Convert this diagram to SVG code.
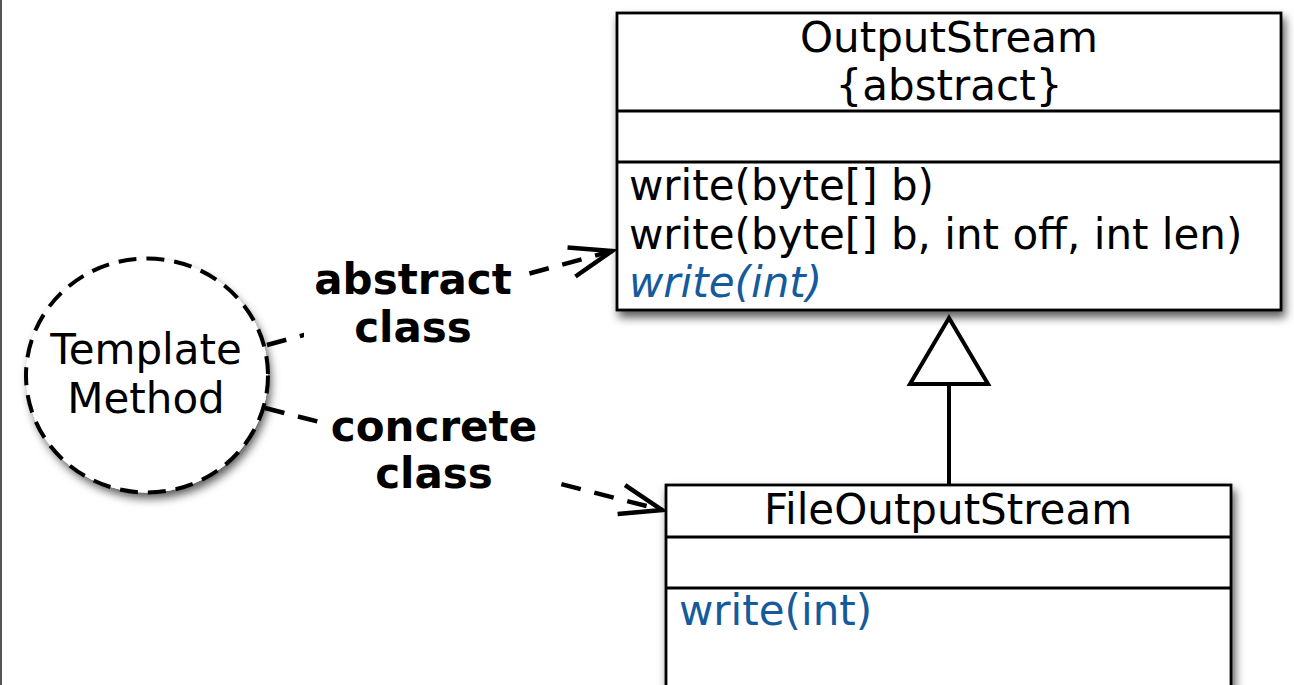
<svg xmlns="http://www.w3.org/2000/svg" width="1294" height="685" viewBox="0 0 1294 685">
  <defs>
    <filter id="shadow" x="-10%" y="-10%" width="125%" height="130%">
      <feDropShadow dx="3" dy="6" stdDeviation="5" flood-color="#000" flood-opacity="0.65"/>
    </filter>
    <marker id="open" markerUnits="userSpaceOnUse" markerWidth="60" markerHeight="40" viewBox="-46 -20 50 40" refX="0" refY="0" orient="auto">
      <path d="M -42 -15 L 0 0 L -42 15" fill="none" stroke="#000" stroke-width="4.5" stroke-linecap="butt" stroke-linejoin="miter"/>
    </marker>
  </defs>
  <style>
    .box { fill: #fff; stroke: #000; stroke-width: 2.8; }
    .div { stroke: #000; stroke-width: 2.8; }
    .t { font-family: "DejaVu Sans", "Liberation Sans", sans-serif; font-size: 42px; fill: #000; }
    .blue { fill: #155a9c; }
    .b { font-weight: bold; }
    .dep { fill: none; stroke: #000; stroke-width: 4.5; stroke-dasharray: 20 14; }
  </style>
  <rect width="1294" height="685" fill="#fff"/>
  <line x1="1" y1="0" x2="1" y2="685" stroke="#555" stroke-width="2"/>

  <g id="connectors">
    <line class="dep" x1="267" y1="345" x2="612" y2="251" marker-end="url(#open)"/>
    <line class="dep" x1="265" y1="408" x2="662" y2="510" marker-end="url(#open)"/>
    <g id="generalization">
      <line x1="949" y1="384" x2="949" y2="486" stroke="#000" stroke-width="4"/>
      <polygon points="949,318 910,384 988,384" fill="#fff" stroke="#000" stroke-width="4" stroke-linejoin="miter"/>
    </g>
  </g>

  <g id="template-method">
    <ellipse cx="147" cy="375.5" rx="121" ry="117" fill="#fff" filter="url(#shadow)"/>
    <ellipse cx="147" cy="375.5" rx="121" ry="117" fill="#fff" stroke="#000" stroke-width="4" stroke-dasharray="18 10"/>
    <text class="t" x="146" y="364" text-anchor="middle" font-size="41">Template</text>
    <text class="t" x="146" y="413" text-anchor="middle" font-size="41">Method</text>
  </g>

  <g id="label-abstract">
    <rect x="304" y="256" width="218" height="94" fill="#fff"/>
    <text class="t b" x="413" y="294" text-anchor="middle">abstract</text>
    <text class="t b" x="413" y="342" text-anchor="middle">class</text>
  </g>

  <g id="label-concrete">
    <rect x="318" y="402" width="234" height="96" fill="#fff"/>
    <text class="t b" x="434" y="441" text-anchor="middle">concrete</text>
    <text class="t b" x="434" y="488" text-anchor="middle">class</text>
  </g>

  <g id="OutputStream">
    <rect class="box" x="617" y="13" width="664" height="297" filter="url(#shadow)"/>
    <line class="div" x1="617" y1="111" x2="1281" y2="111"/>
    <line class="div" x1="617" y1="162" x2="1281" y2="162"/>
    <text class="t" x="949" y="52" text-anchor="middle">OutputStream</text>
    <text class="t" x="949" y="100" text-anchor="middle">{abstract}</text>
    <text class="t" x="629" y="200">write(byte[] b)</text>
    <text class="t" x="629" y="249">write(byte[] b, int off, int len)</text>
    <text class="t blue" x="629" y="297" font-style="italic">write(int)</text>
  </g>

  <g id="FileOutputStream">
    <rect class="box" x="666" y="485" width="565" height="260" filter="url(#shadow)"/>
    <line class="div" x1="666" y1="537" x2="1231" y2="537"/>
    <line class="div" x1="666" y1="588" x2="1231" y2="588"/>
    <text class="t" x="948" y="524" text-anchor="middle">FileOutputStream</text>
    <text class="t blue" x="679" y="625">write(int)</text>
  </g>
</svg>
